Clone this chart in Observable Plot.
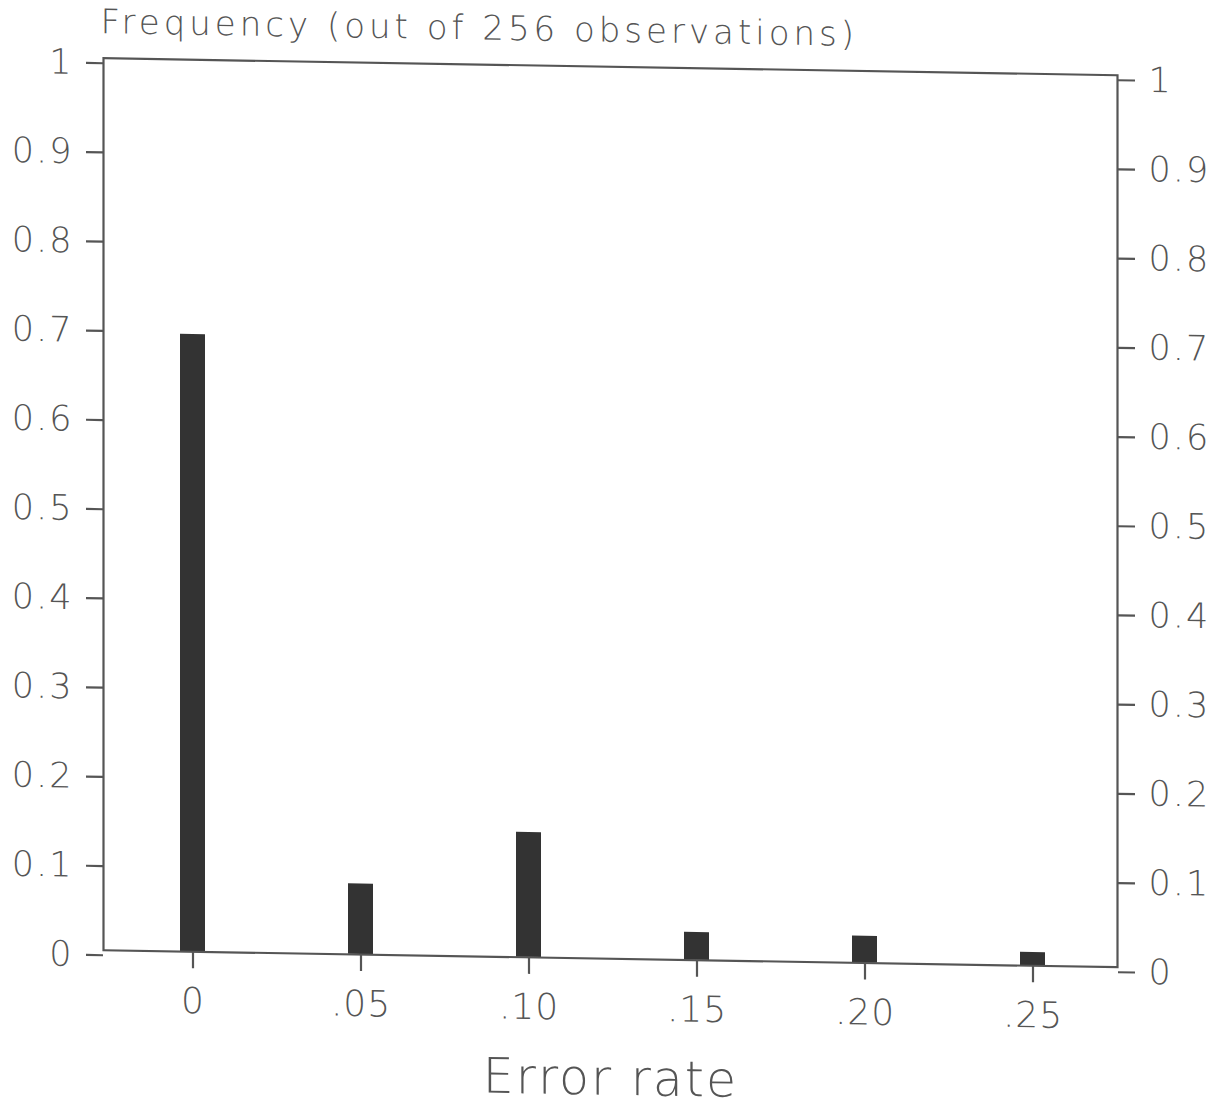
<!DOCTYPE html>
<html><head><meta charset="utf-8">
<script src="https://cdn.jsdelivr.net/npm/d3@7"></script>
<script src="https://cdn.jsdelivr.net/npm/@observablehq/plot@0.6"></script>
<style>
html,body{margin:0;padding:0;background:#fff;}
#chart{width:1226px;height:1108px;transform-origin:0 0;transform:skewY(0.96deg);}
#chart svg{display:block;}
#chart g[aria-label="y-axis tick label"] text{letter-spacing:2px;}
#chart g[aria-label="x-axis tick label"] text{letter-spacing:1px;}
</style></head><body><div id="chart"></div>
<script>
const errorRates = ["0", ".05", ".10", ".15", ".20", ".25"];
const frequencies = [0.692, 0.079, 0.140, 0.031, 0.030, 0.015];
const yTicks = [0, 0.1, 0.2, 0.3, 0.4, 0.5, 0.6, 0.7, 0.8, 0.9, 1];
const yTickLabels = ["0", "0.1", "0.2", "0.3", "0.4", "0.5", "0.6", "0.7", "0.8", "0.9", "1"];
const yLabel = "Frequency (out of 256 observations)";
const xLabel = "Error rate";

const data = errorRates.map((r, i) => ({rate: r, freq: frequencies[i]}));
const fmt = d => yTickLabels[Math.round(d * 10)];
const FONT = "'DejaVu Sans', sans-serif";
const ink = "#555";

const plot = Plot.plot({
  width: 1226, height: 1108,
  marginLeft: 103, marginRight: 109, marginTop: 56, marginBottom: 160,
  style: {fontFamily: FONT, fontWeight: 200, color: ink, background: "#fff"},
  x: {type: "band", domain: errorRates, paddingInner: 0.852, paddingOuter: 0.431, align: 0.515},
  y: {domain: [0, 1]},
  marks: [
    Plot.barY(data, {x: "rate", y: "freq", fill: "#333"}),
    Plot.frame({stroke: ink, strokeWidth: 2.2}),
    Plot.axisY({anchor: "left", ticks: yTicks, tickFormat: fmt, tickSize: 17, tickPadding: 13, fontSize: 35, dy: 5, label: null, strokeWidth: 2.2}),
    Plot.axisY({anchor: "right", ticks: yTicks, tickFormat: fmt, tickSize: 17, tickPadding: 14, fontSize: 35, dy: 5, label: null, strokeWidth: 2.2}),
    Plot.axisX({anchor: "bottom", tickSize: 17, tickPadding: 19, fontSize: 36, label: null, strokeWidth: 2.2}),
    Plot.text([yLabel], {frameAnchor: "top-left", dx: -3, dy: -25, lineAnchor: "bottom", textAnchor: "start", fontSize: 34, fill: ink}),
    Plot.text([xLabel], {frameAnchor: "bottom", dy: 136, lineAnchor: "bottom", fontSize: 49, fill: ink})
  ]
});
d3.select(plot).selectAll('g[aria-label="text"] text').each(function() {
  const t = this.textContent;
  if (t === yLabel) this.style.letterSpacing = "4px";
  if (t === xLabel) this.style.letterSpacing = "2px";
});
document.getElementById("chart").appendChild(plot);
</script></body></html>
